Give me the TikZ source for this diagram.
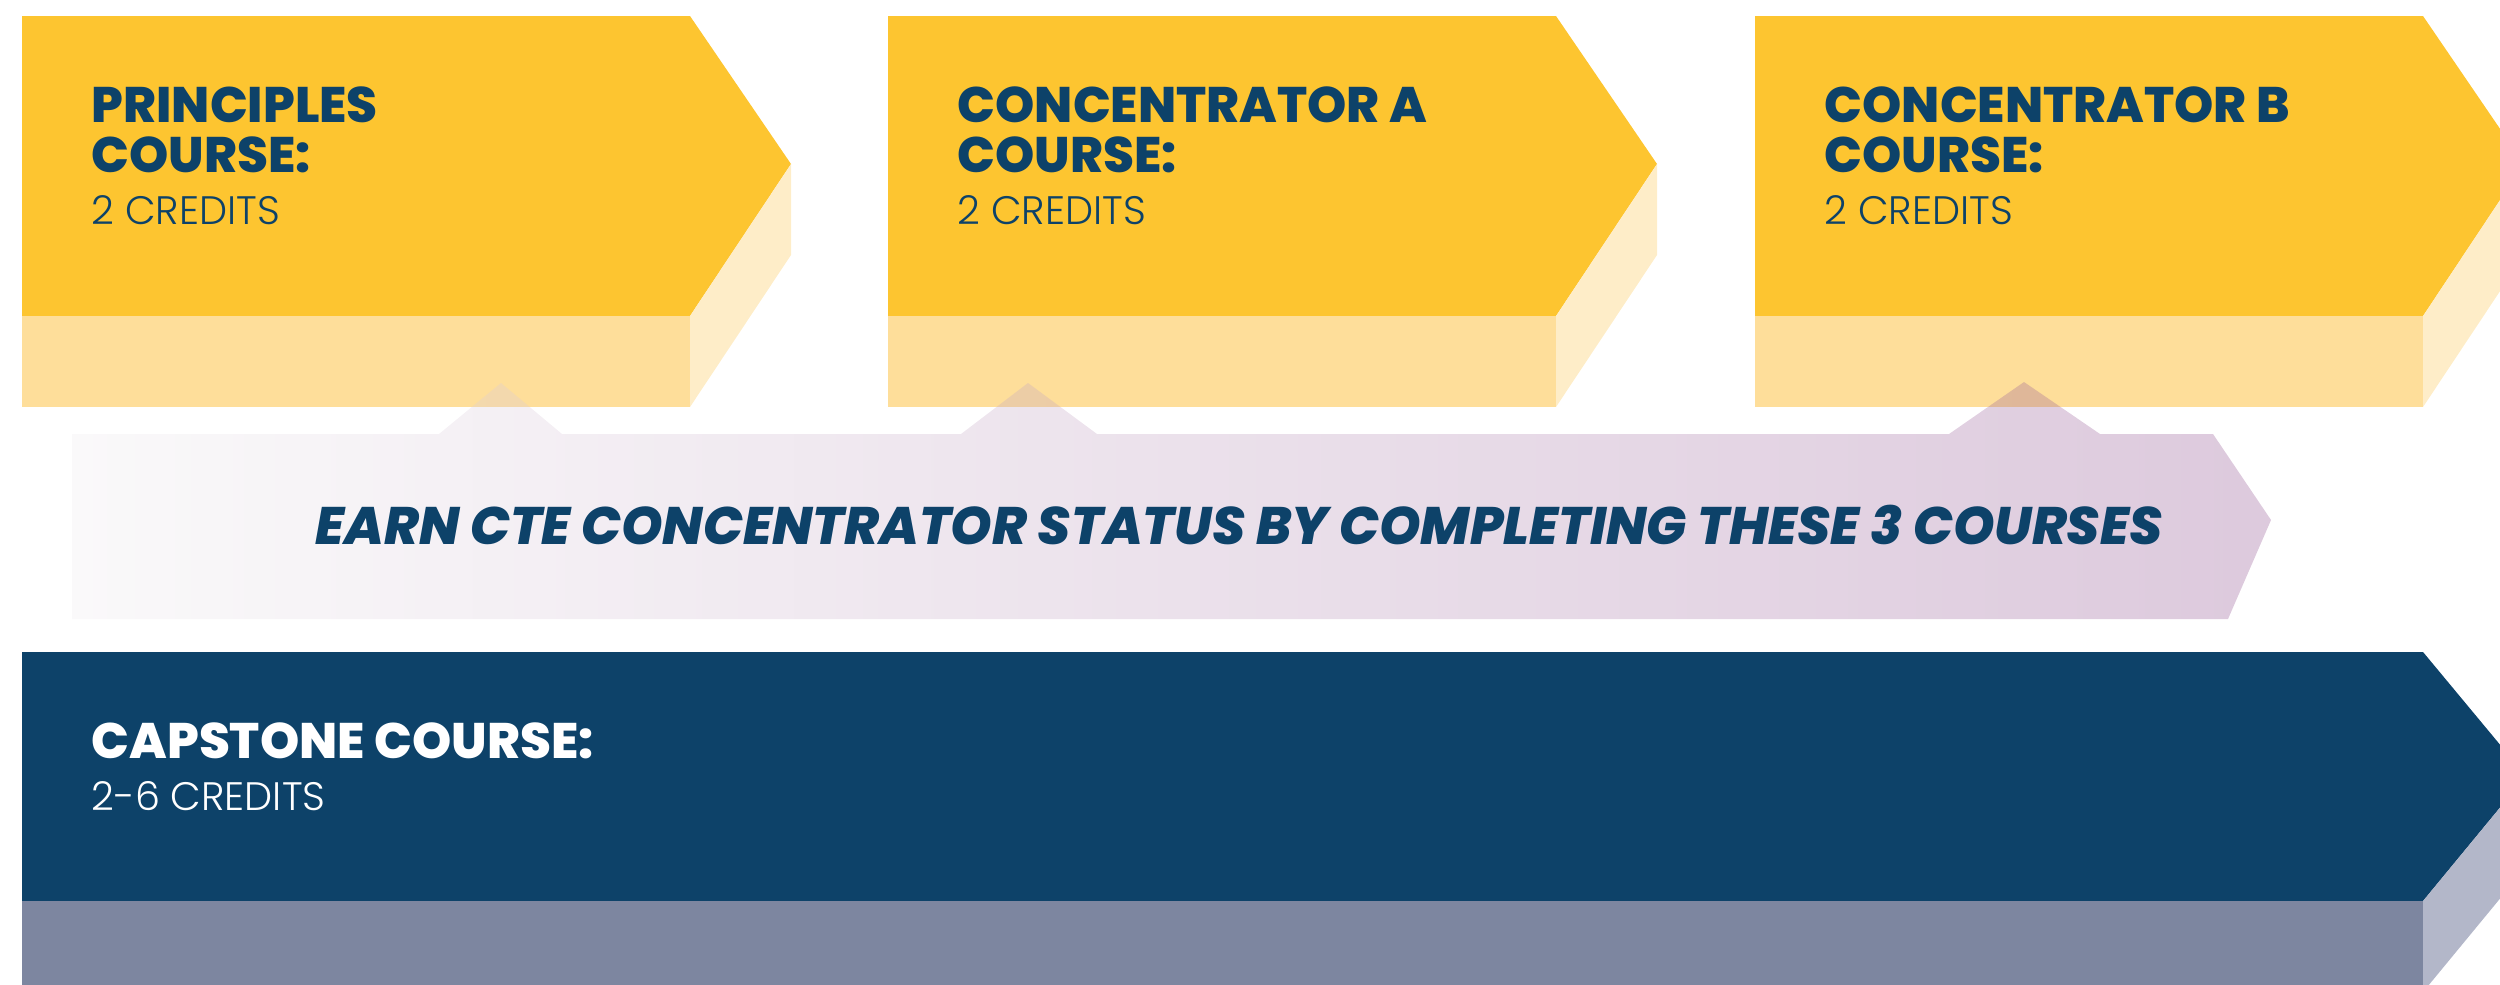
\documentclass[tikz,border=0pt]{standalone}
\usepackage{fontspec}
\setmainfont{Poppins}
\newfontfamily\heavyfont{Poppins}[UprightFont=* ExtraBold, ItalicFont=* ExtraBold Italic]
\newfontfamily\lightfont{Poppins}[UprightFont=* Light]
\usepackage{xcolor}
\definecolor{ctegold}{HTML}{FDC530}
\definecolor{ctegoldfront}{HTML}{FEDE9A}
\definecolor{ctegoldside}{HTML}{FEEDC8}
\definecolor{ctenavy}{HTML}{0D4269}
\definecolor{ctenavyfront}{HTML}{7D86A0}
\definecolor{ctenavyside}{HTML}{B3B7C9}
\definecolor{ctemauve}{RGB}{142,78,142}
\definecolor{ctemist}{RGB}{238,235,238}

\begin{document}
\begin{tikzpicture}[x=0.01cm, y=-0.01cm,
    title/.style={anchor=base west, inner sep=0pt, text=ctenavy, font=\heavyfont\fontsize{14.2}{17}\selectfont},
    credits/.style={anchor=base west, inner sep=0pt, text=ctenavy, font=\lightfont\fontsize{11.3}{13}\selectfont},
    status/.style={anchor=base, inner sep=0pt, text=ctenavy, font=\heavyfont\itshape\fontsize{15}{18}\selectfont}]
    \useasboundingbox (0,0) rectangle (2500,984);
    \clip (0,0) rectangle (2500,984);

    \foreach \L/\name/\id in {22/PRINCIPLES/pr, 888/CONCENTRATOR A/ca, 1755/CONCENTRATOR B/cb}{
        \fill[ctegold] (\L,16) -- (\L+668,16) -- (\L+769,164) -- (\L+668,316) -- (\L,316) -- cycle;
        \fill[ctegoldfront] (\L,316) rectangle (\L+668,407);
        \fill[ctegoldside] (\L+668,316) -- (\L+769,164) -- (\L+769,255) -- (\L+668,407) -- cycle;
        \node[title] (\id-a) at (\L+69,122) {\name};
        \node[title] (\id-b) at (\L+69,172) {COURSE:};
        \node[credits] (\id-c) at (\L+69,224) {2 CREDITS};
    }

    \shade[left color=ctemist, right color=ctemauve, fill opacity=0.3]
        (72,434) -- (439,434) -- (501,383) -- (562,434) -- (961,434) -- (1028,383) -- (1097,434)
        -- (1949,434) -- (2024,382) -- (2100,434) -- (2213,434) -- (2271,520) -- (2228,619) -- (72,619) -- cycle;
    \node[status] (earn) at (1239,544) {EARN CTE CONCENTRATOR STATUS BY COMPLETING THESE 3 COURSES};

    \fill[ctenavy] (22,652) -- (2423,652) -- (2526,776) -- (2423,901) -- (22,901) -- cycle;
    \fill[ctenavyfront] (22,901) rectangle (2423,992);
    \fill[ctenavyside] (2423,901) -- (2526,776) -- (2526,867) -- (2423,992) -- cycle;
    \node[title, text=white] (cap-a) at (91,758) {CAPSTONE COURSE:};
    \node[credits, text=white] (cap-c) at (91,810) {2-6 CREDITS};
\end{tikzpicture}
\end{document}
